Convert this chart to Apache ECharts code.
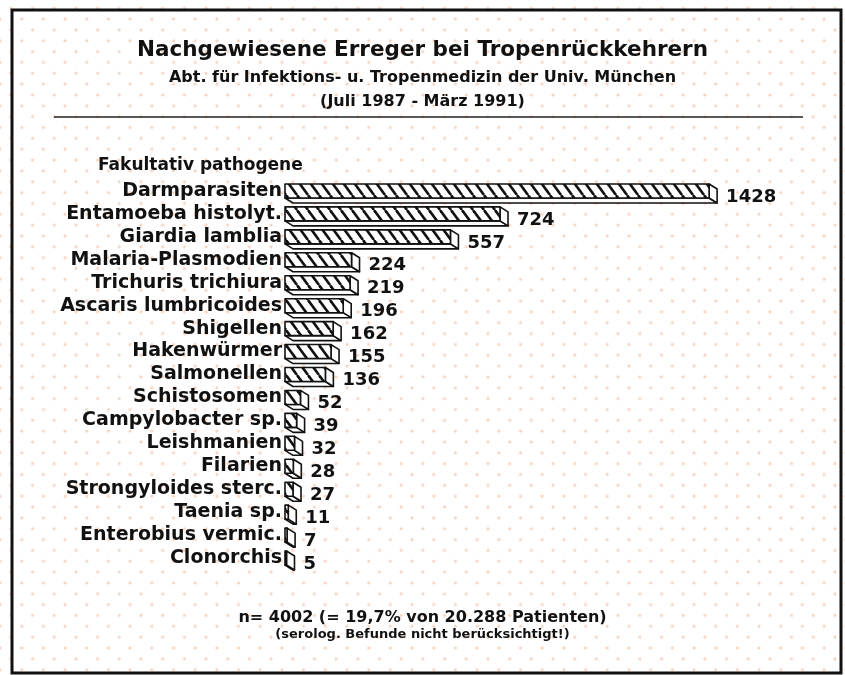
<!DOCTYPE html>
<html>
<head>
<meta charset="utf-8">
<script src="https://cdn.jsdelivr.net/npm/echarts@6/dist/echarts.min.js"></script>
<style>
  html, body { margin: 0; padding: 0; }
  #chart {
    width: 845px;
    height: 675px;
    background-color: #ffffff;
    background-image:
      radial-gradient(circle, #f8d2bc 1.2px, rgba(255,255,255,0) 1.8px),
      radial-gradient(circle, #f8d2bc 1.2px, rgba(255,255,255,0) 1.8px);
    background-size: 21.7px 21.7px;
    background-position: 10.85px 8.25px, 0px -2.6px;
  }
</style>
</head>
<body>
<div id="chart"></div>
<script>
// Erreger (von oben nach unten) und Anzahl Nachweise
const categories = [
  'Darmparasiten', 'Entamoeba histolyt.', 'Giardia lamblia', 'Malaria-Plasmodien',
  'Trichuris trichiura', 'Ascaris lumbricoides', 'Shigellen', 'Hakenwürmer',
  'Salmonellen', 'Schistosomen', 'Campylobacter sp.', 'Leishmanien', 'Filarien',
  'Strongyloides sterc.', 'Taenia sp.', 'Enterobius vermic.', 'Clonorchis'
]
const values = [1428, 724, 557, 224, 219, 196, 162, 155, 136, 52, 39, 32, 28, 27, 11, 7, 5]

const FONT = '"DejaVu Sans", "Liberation Sans", Arial, sans-serif'

// schraffur "\\\" als kachel
function hatchPattern() {
  const w = 11, h = 15
  const c = document.createElement('canvas')
  c.width = w
  c.height = h
  const ctx = c.getContext('2d')
  ctx.fillStyle = '#fff'
  ctx.fillRect(0, 0, w, h)
  ctx.strokeStyle = '#111'
  ctx.lineWidth = 2.6
  for (let i = -1; i <= 1; i++) {
    ctx.beginPath()
    ctx.moveTo(i * w, 0)
    ctx.lineTo(i * w + w, h)
    ctx.stroke()
  }
  return { image: c, repeat: 'repeat' }
}
const hatch = hatchPattern()

const renderItem = (params, api) => {
  const val = api.value(0)
  const idx = api.value(1)
  const p0 = api.coord([0, idx])
  const p1 = api.coord([val, idx])
  const h = 14, dx = 8, dy = 5 // balkenhoehe und 3d-tiefe
  const x0 = p0[0], x1 = p1[0]
  const yt = p0[1] - h / 2, yb = p0[1] + h / 2
  const line = { stroke: '#111', lineWidth: 1.6, lineJoin: 'round' }
  return {
    type: 'group',
    children: [
      {
        type: 'polygon',
        shape: { points: [[x0, yb], [x0 + dx, yb + dy], [x1 + dx, yb + dy], [x1, yb]] },
        style: Object.assign({ fill: '#fff' }, line)
      },
      {
        type: 'polygon',
        shape: { points: [[x1, yt], [x1 + dx, yt + dy], [x1 + dx, yb + dy], [x1, yb]] },
        style: Object.assign({ fill: '#fff' }, line)
      },
      {
        type: 'rect',
        shape: { x: x0, y: yt, width: x1 - x0, height: h },
        style: Object.assign({ fill: hatch }, line)
      },
      {
        type: 'text',
        style: {
          text: String(val),
          x: x1 + 17,
          y: p0[1] + 6,
          verticalAlign: 'middle',
          fill: '#111',
          font: 'bold 18px ' + FONT
        }
      }
    ]
  }
}

const myChart = echarts.init(document.getElementById('chart'), null, { renderer: 'canvas' })

const titleStyle = (size, lh) => ({ fontFamily: FONT, fontWeight: 'bold', fontSize: size, color: '#111', lineHeight: lh })

const option = {
  backgroundColor: 'transparent',
  animation: false,
  title: [
    { text: 'Nachgewiesene Erreger bei Tropenrückkehrern', left: 'center', top: 37, padding: 0, textStyle: titleStyle(21.5, 26) },
    { text: 'Abt. für Infektions- u. Tropenmedizin der Univ. München', left: 'center', top: 66, padding: 0, textStyle: titleStyle(16, 24) },
    { text: '(Juli 1987 - März 1991)', left: 'center', top: 90, padding: 0, textStyle: titleStyle(16, 24) },
    { text: 'n= 4002 (= 19,7% von 20.288 Patienten)', left: 'center', top: 607, padding: 0, textStyle: titleStyle(16, 22) },
    { text: '(serolog. Befunde nicht berücksichtigt!)', left: 'center', top: 627, padding: 0, textStyle: titleStyle(13, 16) }
  ],
  graphic: [
    {
      type: 'rect',
      shape: { x: 12, y: 10, width: 829, height: 663 },
      style: { fill: 'none', stroke: '#111', lineWidth: 3 }
    },
    {
      type: 'line',
      shape: { x1: 54, y1: 117, x2: 803, y2: 117 },
      style: { stroke: '#222', lineWidth: 1.5 }
    },
    {
      type: 'text',
      x: 98,
      y: 166,
      style: {
        text: 'Fakultativ pathogene',
        verticalAlign: 'middle',
        fill: '#111',
        font: 'bold 17px ' + FONT
      }
    }
  ],
  grid: {
    left: 285,
    right: 114.5,
    top: 179.5,
    bottom: 105.5
  },
  xAxis: {
    type: 'value',
    min: 0,
    max: 1500,
    show: false
  },
  yAxis: {
    type: 'category',
    inverse: true,
    data: categories,
    axisLine: { show: false },
    axisTick: { show: false },
    splitLine: { show: false },
    axisLabel: {
      interval: 0,
      margin: 3,
      color: '#111',
      fontFamily: FONT,
      fontWeight: 'bold',
      fontSize: 19
    }
  },
  series: [
    {
      type: 'custom',
      renderItem: renderItem,
      encode: { x: 0, y: 1 },
      data: values.map((v, i) => [v, i])
    }
  ]
}
option && myChart.setOption(option)
</script>
</body>
</html>
